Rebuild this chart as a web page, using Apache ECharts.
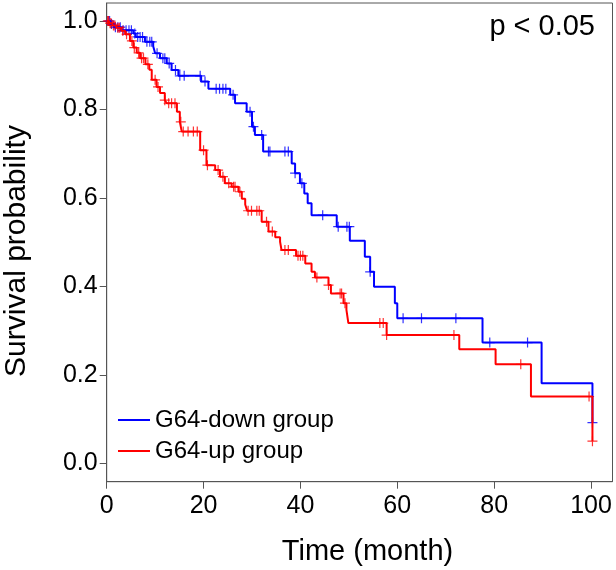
<!DOCTYPE html>
<html>
<head>
<meta charset="utf-8">
<script src="https://cdn.jsdelivr.net/npm/echarts@6/dist/echarts.min.js"></script>
<style>
html,body{margin:0;padding:0;background:#fff;}
#chart{width:616px;height:570px;}
</style>
</head>
<body>
<div id="chart"></div>
<script>
// ---- data ----
var seriesNames = ['G64-down group', 'G64-up group'];
var xTicks = [0, 20, 40, 60, 80, 100];
var yTicks = [0, 0.2, 0.4, 0.6, 0.8, 1.0];

// G64-down: event times (month) and survival after each step
var downT = [0.8, 1.5, 3.0, 5.5, 6.0, 7.9, 9.6, 10.0, 11.0, 12.4, 13.4, 14.8, 19.5, 21.0, 25.5, 26.5, 28.9, 30.0, 30.6, 32.3, 38.2, 38.9, 39.9, 40.8, 41.5, 42.3, 47.5, 50.2, 53.3, 54.4, 55.2, 59.5, 60.0, 77.6, 89.8, 100.3];
var downS = [0.993, 0.986, 0.979, 0.972, 0.964, 0.953, 0.943, 0.927, 0.916, 0.904, 0.889, 0.876, 0.863, 0.847, 0.833, 0.814, 0.795, 0.761, 0.742, 0.705, 0.678, 0.656, 0.633, 0.610, 0.588, 0.561, 0.535, 0.503, 0.467, 0.433, 0.399, 0.362, 0.328, 0.273, 0.181, 0.092];
var downCensor = [0.3, 0.6, 1.0, 1.8, 2.3, 2.8, 3.4, 4.0, 4.6, 5.1, 5.8, 6.4, 6.9, 7.4, 8.3, 8.9, 9.3, 10.4, 11.6, 12.0, 12.9, 14.2, 15.1, 16.0, 19.3, 20.3, 22.6, 23.3, 24.0, 24.6, 26.1, 29.6, 30.3, 32.0, 33.4, 33.7, 36.8, 37.5, 38.9, 40.3, 44.6, 47.8, 49.6, 50.1, 54.4, 61.2, 65.0, 72.1, 79.1, 86.9, 100.3];

// G64-up
var upT = [0.5, 1.2, 2.0, 3.0, 3.8, 4.8, 5.5, 6.2, 6.9, 8.0, 8.8, 9.3, 10.3, 11.0, 12.0, 12.4, 14.5, 15.1, 15.5, 19.3, 20.6, 22.4, 23.4, 24.4, 25.8, 27.2, 27.9, 28.6, 29.0, 32.0, 33.4, 34.8, 35.8, 36.1, 39.1, 41.0, 42.3, 43.0, 45.8, 46.3, 48.9, 49.5, 49.9, 57.8, 72.8, 80.3, 87.6, 100.3];
var upS = [0.995, 0.990, 0.985, 0.978, 0.970, 0.955, 0.940, 0.928, 0.916, 0.902, 0.890, 0.867, 0.851, 0.837, 0.821, 0.814, 0.795, 0.772, 0.750, 0.708, 0.674, 0.663, 0.648, 0.633, 0.625, 0.614, 0.598, 0.585, 0.571, 0.546, 0.524, 0.511, 0.501, 0.482, 0.469, 0.452, 0.433, 0.420, 0.403, 0.384, 0.362, 0.347, 0.317, 0.290, 0.258, 0.224, 0.151, 0.050];
var upCensor = [0.2, 0.4, 0.7, 0.9, 1.4, 1.7, 2.3, 2.6, 3.3, 4.1, 5.2, 5.7, 6.6, 7.2, 7.6, 8.5, 10.0, 10.6, 12.0, 12.8, 13.4, 14.1, 15.3, 15.8, 16.8, 17.9, 18.7, 20.0, 20.8, 23.0, 24.0, 25.2, 26.2, 26.5, 27.5, 29.2, 29.9, 31.0, 31.5, 33.0, 34.2, 36.8, 37.5, 39.5, 40.0, 40.5, 43.4, 45.8, 48.2, 48.5, 49.2, 56.4, 57.1, 57.8, 71.7, 85.5, 99.6, 100.3];

// ---- helpers ----
function stepData(T, S) {
  var d = [[0, 1]];
  for (var i = 0; i < T.length; i++) d.push([T[i], S[i]]);
  return d;
}
function survAt(T, S, t) {
  var s = 1;
  for (var i = 0; i < T.length; i++) { if (T[i] <= t) s = S[i]; }
  return s;
}
function censorData(C, T, S) {
  return C.map(function (t) { return [t, survAt(T, S, t)]; });
}

var FONT = '"Liberation Sans", Arial, Helvetica, sans-serif';
var BLUE = '#0000ff', RED = '#ff0000', AXIS = '#555555';
var plus = 'path://M5,0L5,10M0,5L10,5';

var chart = echarts.init(document.getElementById('chart'), null, {renderer: 'canvas'});
chart.setOption({
  animation: false,
  backgroundColor: '#ffffff',
  grid: {left: 106.7, top: 3, right: 3.5, bottom: 88.3, show: true, borderColor: AXIS, borderWidth: 1, containLabel: false},
  xAxis: {
    type: 'value', min: 0, max: 104.44,
    axisLine: {show: true, onZero: false, lineStyle: {color: AXIS, width: 1}},
    axisTick: {show: true, length: 7, inside: false, customValues: xTicks, lineStyle: {color: AXIS}},
    axisLabel: {customValues: xTicks, margin: 12, color: '#000', fontFamily: FONT, fontSize: 25},
    splitLine: {show: false}
  },
  yAxis: {
    type: 'value', min: -0.0416, max: 1.0407,
    axisLine: {show: true, onZero: false, lineStyle: {color: AXIS, width: 1}},
    axisTick: {show: true, length: 7, customValues: yTicks, lineStyle: {color: AXIS}},
    axisLabel: {customValues: yTicks, margin: 9, color: '#000', fontFamily: FONT, fontSize: 25,
      formatter: function (v) { return v.toFixed(1); }},
    splitLine: {show: false}
  },
  legend: {
    data: seriesNames, orient: 'vertical', left: 113, top: 403,
    icon: 'rect', itemWidth: 32, itemHeight: 2, itemGap: 7,
    textStyle: {fontFamily: FONT, fontSize: 24, color: '#000', lineHeight: 24}
  },
  graphic: [
    {type: 'text', x: 595, y: 27, style: {text: 'p < 0.05', fontFamily: FONT, fontSize: 29, fill: '#000', align: 'right', verticalAlign: 'middle'}},
    {type: 'text', x: 367.5, y: 552, style: {text: 'Time (month)', fontFamily: FONT, fontSize: 29, fill: '#000', align: 'center', verticalAlign: 'middle'}},
    {type: 'text', x: 17, y: 251, rotation: Math.PI / 2, style: {text: 'Survival probability', fontFamily: FONT, fontSize: 30, fill: '#000', align: 'center', verticalAlign: 'middle'}}
  ],
  series: [
    {name: seriesNames[0], type: 'line', step: 'end', data: stepData(downT, downS), showSymbol: false, silent: true,
     itemStyle: {color: BLUE}, lineStyle: {color: BLUE, width: 2}},
    {name: seriesNames[1], type: 'line', step: 'end', data: stepData(upT, upS), showSymbol: false, silent: true,
     itemStyle: {color: RED}, lineStyle: {color: RED, width: 2}},
    {name: 'down-censor', type: 'scatter', data: censorData(downCensor, downT, downS), symbol: plus, symbolSize: 10, silent: true,
     itemStyle: {color: 'none', borderColor: BLUE, borderWidth: 1.2}},
    {name: 'up-censor', type: 'scatter', data: censorData(upCensor, upT, upS), symbol: plus, symbolSize: 10, silent: true,
     itemStyle: {color: 'none', borderColor: RED, borderWidth: 1.2}}
  ]
});
</script>
</body>
</html>
